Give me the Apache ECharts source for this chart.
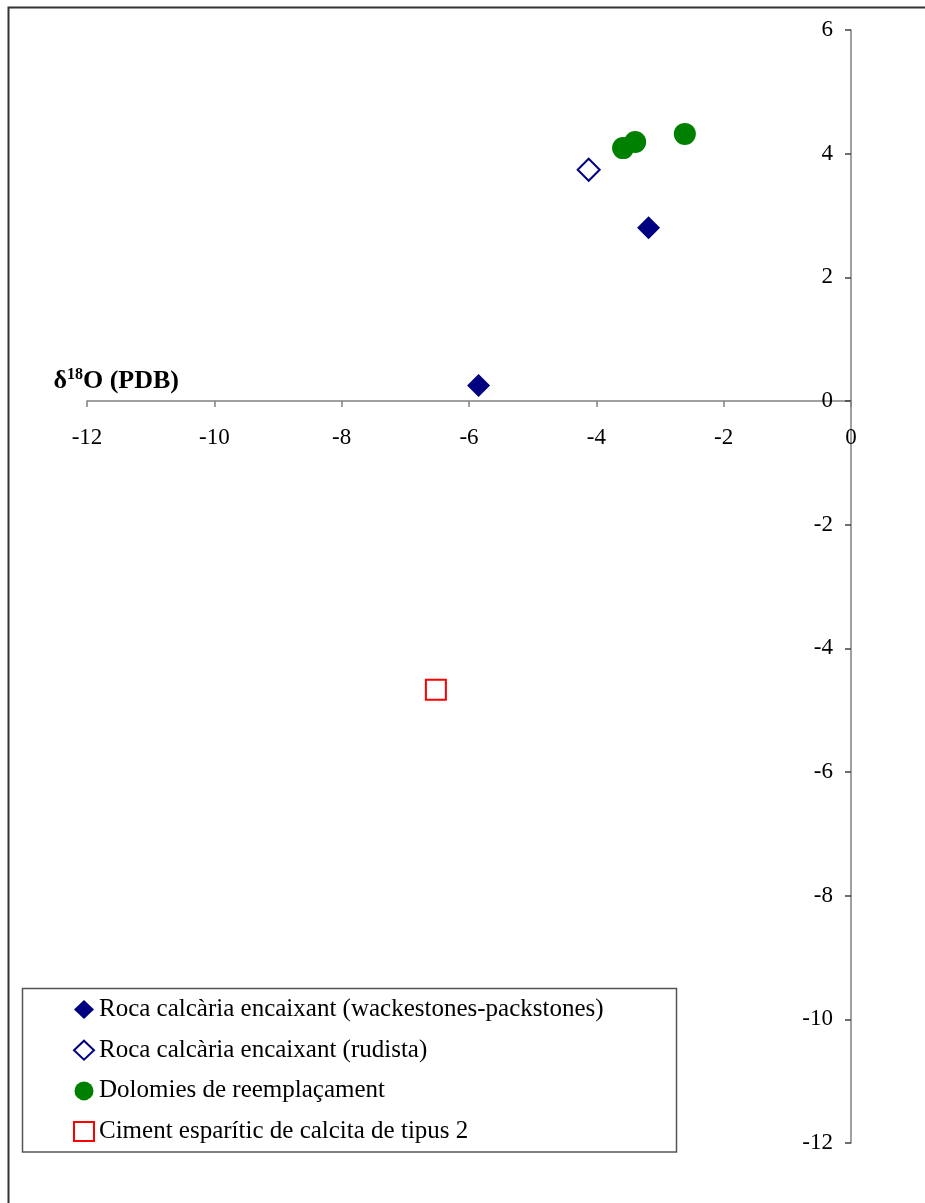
<!DOCTYPE html>
<html>
<head>
<meta charset="utf-8">
<script src="https://cdn.jsdelivr.net/npm/echarts@6/dist/echarts.min.js"></script>
<style>
html,body{margin:0;padding:0;background:#fff;}
#chart{width:925px;height:1203px;}
</style>
</head>
<body>
<div id="chart"></div>
<script>
// Data (delta18O, delta13C)
const seriesNames = [
  'Roca calcària encaixant (wackestones-packstones)',
  'Roca calcària encaixant (rudista)',
  'Dolomies de reemplaçament',
  'Ciment esparític de calcita de tipus 2'
];
const wackestones = [[-5.85, 0.25], [-3.18, 2.80]];
const rudista = [[-4.12, 3.74]];
const dolomies = [[-3.58, 4.09], [-3.39, 4.19], [-2.61, 4.32]];
const ciment = [[-6.52, -4.67]];
const xRange = [-12, 0];
const yRange = [-12, 6];

const FONT = '"Liberation Serif", "Times New Roman", serif';

const GRID = {left: 87, right: 74, top: 30, bottom: 60};
const plotH = 1203 - GRID.top - GRID.bottom;
// x axis drawn where y = 0 (moved up from the bottom of the grid)
const xAxisOffset = -plotH * (0 - yRange[0]) / (yRange[1] - yRange[0]);

const chart = echarts.init(document.getElementById('chart'), null, {renderer: 'canvas'});
chart.setOption({
  backgroundColor: '#fff',
  animation: false,
  grid: Object.assign({outerBoundsMode: 'none', containLabel: false}, GRID),
  xAxis: {
    type: 'value', min: xRange[0], max: xRange[1], interval: 2,
    position: 'bottom', offset: xAxisOffset,
    axisLine: {onZero: false, lineStyle: {color: '#808080', width: 1.5}},
    axisTick: {show: true, length: 6, lineStyle: {color: '#808080', width: 1.5}},
    axisLabel: {fontFamily: FONT, fontSize: 23, color: '#000', margin: 25},
    splitLine: {show: false}
  },
  yAxis: {
    type: 'value', min: yRange[0], max: yRange[1], interval: 2,
    position: 'right',
    axisLine: {onZero: false, lineStyle: {color: '#808080', width: 1.5}},
    axisTick: {show: true, inside: true, length: 6, lineStyle: {color: '#404040', width: 1.5}},
    axisLabel: {inside: true, fontFamily: FONT, fontSize: 23, color: '#000', margin: 18},
    splitLine: {show: false}
  },
  legend: {
    orient: 'vertical',
    left: 73, top: 997, padding: 0,
    itemGap: 15.7,
    itemWidth: 20, itemHeight: 19,
    selectedMode: false,
    textStyle: {fontFamily: FONT, fontSize: 25, lineHeight: 24, color: '#000'},
    data: seriesNames
  },
  graphic: [
    {type: 'rect', shape: {x: 8.5, y: 7.5, width: 1000, height: 1300}, style: {fill: 'none', stroke: '#333', lineWidth: 2}, silent: true, z: -10},
    {type: 'rect', shape: {x: 22.5, y: 988.5, width: 654, height: 163.5}, style: {fill: 'none', stroke: '#555', lineWidth: 1.5}, silent: true, z: -5},
    {type: 'text', x: 179, y: 395, silent: true,
     style: {
       text: '{d|δ}{s|18}{d|O (PDB)}',
       align: 'right', verticalAlign: 'bottom',
       rich: {
         d: {fontFamily: FONT, fontSize: 26, fontWeight: 'bold', fill: '#000', lineHeight: 28},
         s: {fontFamily: FONT, fontSize: 16, fontWeight: 'bold', fill: '#000', lineHeight: 16, verticalAlign: 'top'}
       }
     }}
  ],
  series: [
    {name: seriesNames[0], type: 'scatter', data: wackestones, symbol: 'diamond', symbolSize: 23,
     itemStyle: {color: '#000080', opacity: 1}},
    {name: seriesNames[1], type: 'scatter', data: rudista, symbol: 'emptyDiamond', symbolSize: 22,
     itemStyle: {color: '#000080', borderColor: '#000080', borderWidth: 2, opacity: 1}},
    {name: seriesNames[2], type: 'scatter', data: dolomies, symbol: 'circle', symbolSize: 22,
     itemStyle: {color: '#008000', opacity: 1}},
    {name: seriesNames[3], type: 'scatter', data: ciment, symbol: 'emptyRect', symbolSize: 20,
     itemStyle: {color: '#FF0000', borderColor: '#FF0000', borderWidth: 2, opacity: 1}}
  ]
});
</script>
</body>
</html>
